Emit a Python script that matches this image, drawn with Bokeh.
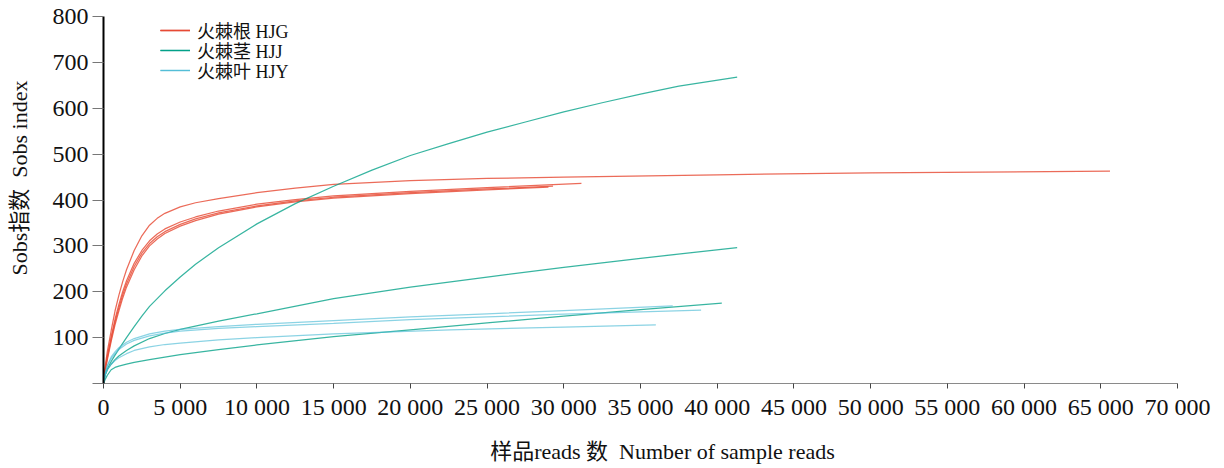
from bokeh.plotting import figure
from bokeh.models import Range1d, FixedTicker, Legend, LegendItem
from bokeh.embed import file_html
from bokeh.resources import INLINE

# ---------------- data ----------------
x_ticks = [0, 5000, 10000, 15000, 20000, 25000, 30000, 35000, 40000,
           45000, 50000, 55000, 60000, 65000, 70000]
x_tick_labels = ["0", "5 000", "10 000", "15 000", "20 000", "25 000", "30 000",
                 "35 000", "40 000", "45 000", "50 000", "55 000", "60 000",
                 "65 000", "70 000"]
y_ticks = [0, 100, 200, 300, 400, 500, 600, 700, 800]
y_tick_labels = ["", "100", "200", "300", "400", "500", "600", "700", "800"]

groups = ["火棘根 HJG", "火棘茎 HJJ", "火棘叶 HJY"]

# HJG (root) samples
hjg1_x = [0, 100, 250, 500, 750, 1000, 1250, 1500, 2000, 2500, 3000, 3500, 4000, 5000, 6000, 7500,
          10000, 12500, 15000, 20000, 25000, 30000, 40000, 50000, 65600]
hjg1_y = [0, 35, 70, 115, 158, 192, 222, 248, 290, 322, 345, 360, 371, 385, 394, 403,
          416, 426, 434, 442, 447, 450, 455, 459, 463]
hjg2_x = [0, 100, 250, 500, 750, 1000, 1250, 1500, 2000, 2500, 3000, 3500, 4000, 5000, 6000, 7500,
          10000, 12500, 15000, 20000, 25000, 31150]
hjg2_y = [0, 30, 60, 102, 140, 172, 200, 224, 262, 290, 311, 326, 337, 352, 363, 376,
          391, 401, 409, 419, 427, 436]
hjg3_x = [0, 100, 250, 500, 750, 1000, 1250, 1500, 2000, 2500, 3000, 3500, 4000, 5000, 6000, 7500,
          10000, 12500, 15000, 20000, 25000, 29300]
hjg3_y = [0, 28, 56, 97, 134, 165, 193, 217, 255, 284, 305, 320, 331, 347, 359, 372,
          387, 398, 406, 416, 424, 430]
hjg4_x = [0, 100, 250, 500, 750, 1000, 1250, 1500, 2000, 2500, 3000, 3500, 4000, 5000, 6000, 7500,
          10000, 12500, 15000, 20000, 25000, 29000]
hjg4_y = [0, 26, 52, 92, 128, 158, 186, 210, 248, 278, 300, 315, 327, 343, 355, 369,
          385, 396, 404, 414, 422, 428]

# HJJ (stem) samples
hjj1_x = [0, 100, 250, 500, 750, 1000, 1500, 2000, 2500, 3000, 4000, 5000, 6000, 7500, 10000,
          12500, 15000, 17500, 20000, 22500, 25000, 27500, 30000, 32500, 35000, 37500, 41300]
hjj1_y = [0, 18, 32, 48, 62, 75, 100, 124, 147, 168, 202, 232, 260, 296, 348,
          392, 430, 465, 497, 523, 548, 570, 592, 612, 631, 648, 668]
hjj2_x = [0, 100, 250, 500, 750, 1000, 1500, 2000, 3000, 4000, 5000, 7500, 10000, 15000,
          20000, 25000, 30000, 35000, 41300]
hjj2_y = [0, 18, 30, 42, 52, 60, 72, 82, 98, 109, 118, 136, 152, 185,
          210, 232, 253, 273, 296]
hjj3_x = [0, 100, 250, 500, 750, 1000, 1500, 2000, 3000, 5000, 7500, 10000, 15000, 20000,
          25000, 30000, 35000, 40300]
hjj3_y = [0, 8, 18, 30, 35, 38, 42, 46, 52, 63, 74, 84, 102, 117,
          132, 147, 161, 175]

# HJY (leaf) samples
hjy1_x = [0, 100, 250, 500, 750, 1000, 1500, 2000, 3000, 4000, 5000, 7500, 10000, 15000,
          20000, 25000, 30000, 37100]
hjy1_y = [0, 22, 40, 58, 69, 78, 90, 98, 108, 114, 118, 124, 129, 137,
          145, 152, 159, 169]
hjy2_x = [0, 100, 250, 500, 750, 1000, 1500, 2000, 3000, 4000, 5000, 7500, 10000, 15000,
          20000, 25000, 30000, 38950]
hjy2_y = [0, 20, 38, 54, 65, 74, 86, 94, 104, 110, 114, 120, 124, 131,
          139, 145, 151, 160]
hjy3_x = [0, 100, 250, 500, 750, 1000, 1500, 2000, 3000, 4000, 5000, 7500, 10000, 15000,
          22600, 30000, 36000]
hjy3_y = [0, 17, 30, 42, 50, 56, 65, 72, 80, 85, 88, 95, 100, 108,
          117, 123, 128]

x_label = "样品reads 数  Number of sample reads"
y_label = "Sobs指数  Sobs index"

# ---------------- styling ----------------
RED, TEAL, CYAN = "#E64B35", "#00A087", "#4DBBD5"
SERIF = "Liberation Serif, Noto Sans CJK SC"
SHIFT = "\u00a0" * 8   # shifts the centred axis title like the reference


def keep_spaces(s):
    return s.replace("  ", "\u00a0 ")


p = figure(width=1216, height=466,
           x_range=Range1d(0, 70000), y_range=Range1d(0, 800),
           output_backend="svg", toolbar_location=None,
           min_border_left=103, min_border_right=39,
           min_border_top=16, min_border_bottom=80)
p.xgrid.visible = False
p.ygrid.visible = False
p.outline_line_color = None
p.background_fill_color = "white"

red_r, teal_r, cyan_r = [], [], []
for xs, ys in [(hjg1_x, hjg1_y), (hjg2_x, hjg2_y), (hjg3_x, hjg3_y), (hjg4_x, hjg4_y)]:
    red_r.append(p.line(xs, ys, line_color=RED, line_width=1.25, line_alpha=0.82))
for xs, ys in [(hjj1_x, hjj1_y), (hjj2_x, hjj2_y), (hjj3_x, hjj3_y)]:
    teal_r.append(p.line(xs, ys, line_color=TEAL, line_width=1.25, line_alpha=0.78))
for xs, ys in [(hjy1_x, hjy1_y), (hjy2_x, hjy2_y), (hjy3_x, hjy3_y)]:
    cyan_r.append(p.line(xs, ys, line_color=CYAN, line_width=1.25, line_alpha=0.65))

# axes
xa = p.xaxis[0]
xa.ticker = FixedTicker(ticks=x_ticks)
xa.major_label_overrides = {t: l for t, l in zip(x_ticks, x_tick_labels)}
xa.axis_line_color = "#8a8a8a"
xa.axis_line_width = 1
xa.major_tick_line_color = "#444444"
xa.major_tick_out = 5
xa.major_tick_in = 0
xa.minor_tick_line_color = None
xa.major_label_text_font = SERIF
xa.major_label_text_font_size = "24px"
xa.major_label_text_color = "#111111"
xa.major_label_standoff = 5
xa.axis_label = SHIFT + keep_spaces(x_label)
xa.axis_label_text_font = SERIF
xa.axis_label_text_font_size = "22px"
xa.axis_label_text_font_style = "normal"
xa.axis_label_text_color = "#111111"
xa.axis_label_standoff = 16

ya = p.yaxis[0]
ya.ticker = FixedTicker(ticks=y_ticks)
ya.major_label_overrides = {t: l for t, l in zip(y_ticks, y_tick_labels)}
ya.axis_line_color = "black"
ya.axis_line_width = 2
ya.major_tick_line_color = "#777777"
ya.major_tick_out = 11
ya.major_tick_in = 0
ya.minor_tick_line_color = None
ya.major_label_text_font = SERIF
ya.major_label_text_font_size = "24px"
ya.major_label_text_color = "#111111"
ya.major_label_standoff = 4
ya.axis_label = SHIFT + keep_spaces(y_label)
ya.axis_label_text_font = SERIF
ya.axis_label_text_font_size = "22px"
ya.axis_label_text_font_style = "normal"
ya.axis_label_text_color = "#111111"
ya.axis_label_standoff = 18

# one single-row legend per group, so the rows sit as close as in the reference
for label, rends, ly in [(groups[0], red_r, 340), (groups[1], teal_r, 320), (groups[2], cyan_r, 300)]:
    lg = Legend(items=[LegendItem(label=label, renderers=rends)],
                location=(57, ly), border_line_color=None,
                background_fill_alpha=0, label_text_font=SERIF,
                label_text_font_size="18px", label_text_color="#111111",
                glyph_width=30, glyph_height=20, label_height=20,
                spacing=0, padding=2, label_standoff=7, margin=0)
    p.add_layout(lg)

open("out.html", "w").write(file_html(p, INLINE))
